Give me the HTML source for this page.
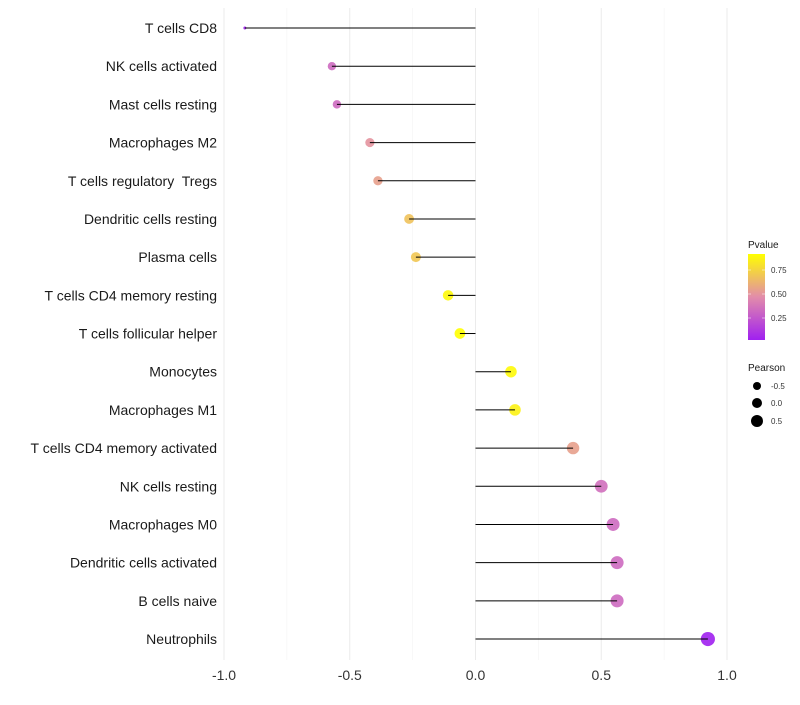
<!DOCTYPE html>
<html><head><meta charset="utf-8"><style>body{margin:0;background:#fff}svg{font-family:"Liberation Sans",sans-serif}text{white-space:pre}</style></head>
<body>
<svg id="c" width="800" height="700"></svg>
<script>
const categories=["T cells CD8","NK cells activated","Mast cells resting","Macrophages M2","T cells regulatory  Tregs","Dendritic cells resting","Plasma cells","T cells CD4 memory resting","T cells follicular helper","Monocytes","Macrophages M1","T cells CD4 memory activated","NK cells resting","Macrophages M0","Dendritic cells activated","B cells naive","Neutrophils"];
const pearson=[-0.917,-0.571,-0.551,-0.42,-0.388,-0.264,-0.237,-0.109,-0.062,0.141,0.157,0.388,0.5,0.547,0.563,0.563,0.924];
const pvalue=[0.02,0.33,0.33,0.5,0.55,0.68,0.7,0.9,0.92,0.9,0.87,0.55,0.35,0.33,0.33,0.33,0.02];
const xTicks=[-1,-0.5,0,0.5,1];
const xTickLabels=["-1.0","-0.5","0.0","0.5","1.0"];
const NS="http://www.w3.org/2000/svg",svg=document.getElementById('c');
const x=v=>475.5+v*251.5, y=i=>28+i*38.19;
function mk(t,a,p){const e=document.createElementNS(NS,t);for(const k in a)e.setAttribute(k,a[k]);(p||svg).appendChild(e);return e;}
function lerp(a,b,t){return a.map((v,i)=>Math.round(v+(b[i]-v)*t));}
function col(p){const s=[[160,32,240],[226,140,170],[255,255,0]];let t=Math.max(0,Math.min(1,(p-0.02)/0.9));const c=t<0.5?lerp(s[0],s[1],t*2):lerp(s[1],s[2],(t-0.5)*2);return `rgb(${c})`;}
function rad(v){return v<-0.8?1.5:Math.sqrt(Math.max(2,30+22*v));}
for(let v=-1;v<=1.001;v+=0.25){const maj=Math.abs(v*2-Math.round(v*2))<1e-6;const l=mk('line',{x1:x(v),x2:x(v),y1:8,y2:660,stroke:maj?'#ebebeb':'#f3f3f3','stroke-width':maj?1:0.6});
}
xTicks.forEach((t,i)=>{const e=mk('text',{x:x(t),y:680,'text-anchor':'middle','font-size':14,fill:'#333'});e.textContent=xTickLabels[i];
});
categories.forEach((c,i)=>{const t=mk('text',{x:217,y:y(i)+5,'text-anchor':'end','font-size':14,fill:'#1a1a1a'});t.textContent=c;

const d=mk('circle',{cx:x(pearson[i]),cy:y(i),r:rad(pearson[i]),fill:col(pvalue[i]),'fill-opacity':0.9});

const l=mk('line',{x1:x(0),x2:x(pearson[i]),y1:y(i),y2:y(i),stroke:'#000','stroke-width':1});
});
const g=mk('g',{});
const defs=mk('defs',{},g);const lg=mk('linearGradient',{id:'gr',x1:0,y1:1,x2:0,y2:0},defs);
[[0,'#a020f0'],[0.5,'#e28caa'],[1,'#ffff00']].forEach(s=>mk('stop',{offset:s[0],'stop-color':s[1]},lg));
let t=mk('text',{x:748,y:248,'font-size':10,fill:'#1a1a1a'},g);t.textContent='Pvalue';
mk('rect',{x:748,y:254,width:17,height:86,fill:'url(#gr)'},g);
[[0.75,270],[0.5,294],[0.25,318]].forEach(a=>{mk('line',{x1:748,x2:751,y1:a[1],y2:a[1],stroke:'#fff','stroke-width':0.5},g);mk('line',{x1:762,x2:765,y1:a[1],y2:a[1],stroke:'#fff','stroke-width':0.5},g);
const e=mk('text',{x:771,y:a[1]+3,'font-size':8,fill:'#333'},g);e.textContent=a[0].toFixed(2);});
t=mk('text',{x:748,y:371,'font-size':10,fill:'#1a1a1a'},g);t.textContent='Pearson';
[[-0.5,386,'-0.5',4],[0,403,'0.0',5],[0.5,421,'0.5',6]].forEach(a=>{mk('circle',{cx:757,cy:a[1],r:a[3],fill:'#000'},g);
const e=mk('text',{x:771,y:a[1]+3,'font-size':8,fill:'#333'},g);e.textContent=a[2];});
</script>
</body></html>
